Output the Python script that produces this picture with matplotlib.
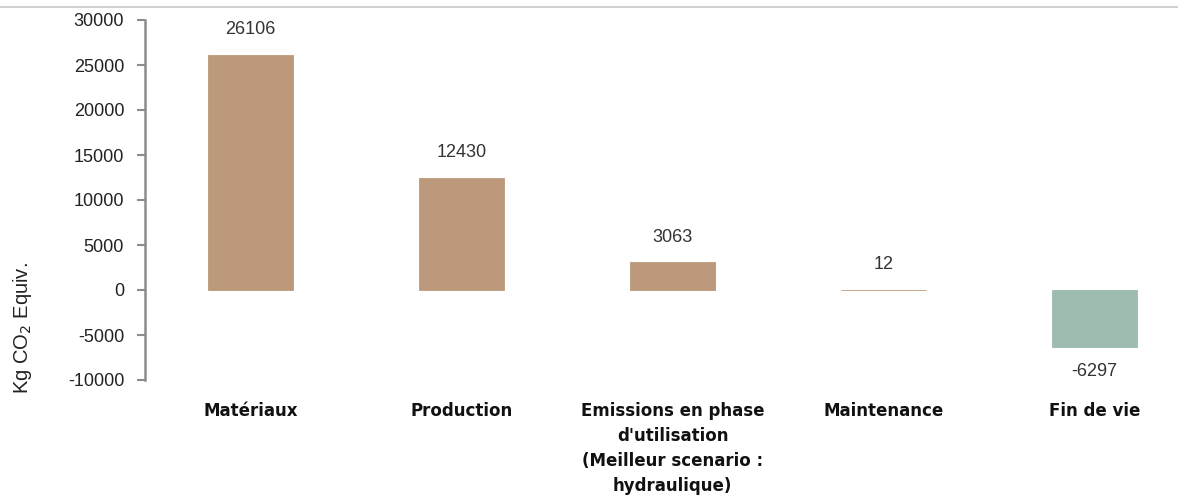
import numpy as np
import matplotlib
matplotlib.use('Agg')
import matplotlib.pyplot as plt
from matplotlib.lines import Line2D

# data
categories = ['Matériaux', 'Production',
              "Emissions en phase\nd'utilisation\n(Meilleur scenario :\nhydraulique)",
              'Maintenance', 'Fin de vie']
values = [26106, 12430, 3063, 12, -6297]
yticks = [-10000, -5000, 0, 5000, 10000, 15000, 20000, 25000, 30000]

brown = '#bc997a'
green = '#9dbbae'
grey = '#8c8c8c'
numfont = 'Liberation Sans'

fig = plt.figure(figsize=(11.78, 5.0), dpi=100)
ax = fig.add_axes([145/1178, 1 - 380/500, (1200 - 145)/1178, 360/500])

x = np.arange(len(categories))
colors = [brown if v >= 0 else green for v in values]
ax.bar(x, values, width=0.4, color=colors, edgecolor=colors, linewidth=0.6)

for xi, v in zip(x, values):
    if v >= 0:
        ax.annotate(f'{v}', (xi, v), xytext=(0, 12), textcoords='offset points',
                    ha='center', va='bottom', fontsize=13,
                    family=numfont, color='#333333')
    else:
        ax.annotate(f'{v}', (xi, v), xytext=(0, -12), textcoords='offset points',
                    ha='center', va='top', fontsize=13,
                    family=numfont, color='#333333')

ax.set_xlim(-0.5, 4.5)
ax.set_ylim(-10000, 30000)
ax.set_yticks(yticks)
ax.set_yticklabels([str(t) for t in yticks], family=numfont,
                   fontsize=13, color='#222222')
ax.set_xticks(x)
ax.set_xticklabels(categories, fontweight='bold', fontsize=12, color='#111111',
                   linespacing=1.5)
ax.tick_params(axis='x', length=0, pad=16)
ax.tick_params(axis='y', direction='out', length=6, width=1.5, color=grey, pad=9)

for s in ['top', 'right', 'bottom']:
    ax.spines[s].set_visible(False)
ax.spines['left'].set_color(grey)
ax.spines['left'].set_linewidth(1.8)

fig.text(22/1178, 1 - 328/500, 'Kg CO$_2$ Equiv.', rotation=90, ha='center',
         va='center', fontsize=14.5, family=numfont, color='#222222')

fig.add_artist(Line2D([0, 1], [1 - 7/500, 1 - 7/500], color='#c8c8c8', lw=1.2,
                      transform=fig.transFigure))

fig.savefig('out.png', dpi=100)
